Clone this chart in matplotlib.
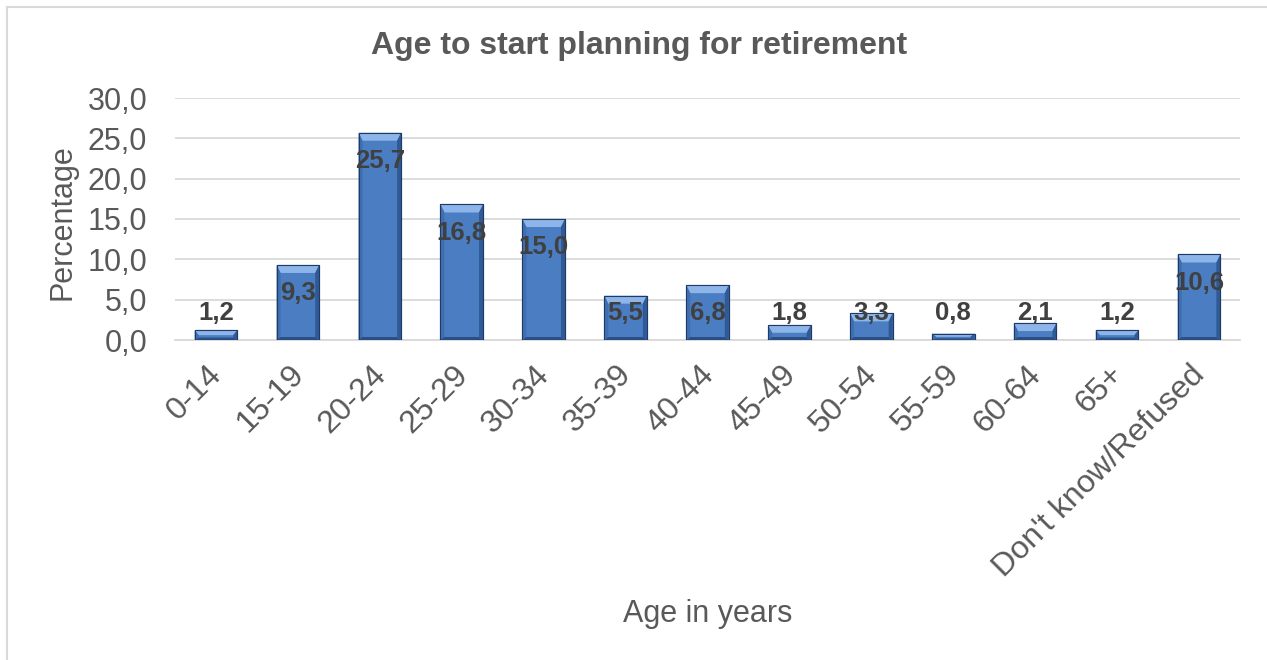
import matplotlib.pyplot as plt
from matplotlib.patches import Polygon
from matplotlib.lines import Line2D
import matplotlib.transforms as mtransforms

age_groups = ['0-14', '15-19', '20-24', '25-29', '30-34', '35-39', '40-44',
              '45-49', '50-54', '55-59', '60-64', '65+', "Don't know/Refused"]
percentages = [1.2, 9.3, 25.7, 16.8, 15.0, 5.5, 6.8, 1.8, 3.3, 0.8, 2.1, 1.2, 10.6]
y_ticks = [0, 5, 10, 15, 20, 25, 30]

plt.rcParams['font.family'] = ['Liberation Sans', 'DejaVu Sans']

W, H = 1267, 660
fig = plt.figure(figsize=(W / 100, H / 100), dpi=100)
L, R, T, B = 175, 1240, 98, 340
ax = fig.add_axes([L / W, 1 - B / H, (R - L) / W, (B - T) / H])

ax.set_xlim(-0.5, len(age_groups) - 0.5)
ax.set_ylim(0, 30)
xpx = (R - L) / len(age_groups)   # pixels per category
ypx = (B - T) / 30.0              # pixels per percent

face = '#4a7dc2'
bars = ax.bar(range(len(age_groups)), percentages, width=0.52, color=face,
              edgecolor='#1f3a64', linewidth=0.8, zorder=3)

# bevel effect on each bar
for b in bars:
    x0, w, h = b.get_x(), b.get_width(), b.get_height()
    bx = 4 / xpx
    ty = min(8 / ypx, h * 0.5)
    by = min(3 / ypx, h * 0.25)
    polys = [
        ([(x0, h), (x0 + w, h), (x0 + w - bx, h - ty), (x0 + bx, h - ty)], '#8db5ea'),
        ([(x0, 0), (x0, h), (x0 + bx, h - ty), (x0 + bx, by)], '#3f6fb0'),
        ([(x0 + w, 0), (x0 + w, h), (x0 + w - bx, h - ty), (x0 + w - bx, by)], '#2f5a96'),
        ([(x0, 0), (x0 + w, 0), (x0 + w - bx, by), (x0 + bx, by)], '#2a4f85'),
    ]
    for pts, c in polys:
        ax.add_patch(Polygon(pts, closed=True, facecolor=c, edgecolor='none', zorder=4))
    ax.add_patch(Polygon([(x0, 0), (x0, h), (x0 + w, h), (x0 + w, 0)], closed=True,
                         facecolor='none', edgecolor='#1f3a64', linewidth=0.8, zorder=5))

# value labels: inside the top of the bar, kept above the axis for short bars
for i, v in enumerate(percentages):
    ly = max(v - 3.5, 3.35)
    ax.text(i, ly, f'{v:.1f}'.replace('.', ','), ha='center', va='center',
            fontsize=18.5, fontweight='bold', color='#404040', zorder=6)

ax.set_yticks(y_ticks)
ax.set_yticklabels([f'{t:.1f}'.replace('.', ',') for t in y_ticks])
ax.yaxis.grid(True, color='#d9d9d9', linewidth=1.3, zorder=0)
ax.set_axisbelow(True)
for s in ['top', 'right', 'left']:
    ax.spines[s].set_visible(False)
ax.spines['bottom'].set_color('#d9d9d9')
ax.spines['bottom'].set_linewidth(1.3)
ax.tick_params(axis='both', length=0, labelsize=22, labelcolor='#595959')
ax.tick_params(axis='y', pad=20)

ax.set_xticks(range(len(age_groups)))
ax.set_xticklabels(age_groups, rotation=45, ha='right', va='top',
                   rotation_mode='anchor', fontsize=23)
ax.tick_params(axis='x', pad=14)
shift = mtransforms.ScaledTranslation(-9 / 100, 0, fig.dpi_scale_trans)
for lbl in ax.get_xticklabels():
    lbl.set_transform(lbl.get_transform() + shift)

fig.text(639 / W, 1 - 46 / H, 'Age to start planning for retirement', ha='center',
         va='center', fontsize=23, fontweight='bold', color='#595959')
fig.text(708 / W, 1 - 614 / H, 'Age in years', ha='center', va='center',
         fontsize=22, color='#595959')
fig.text(62 / W, 1 - 222 / H, 'Percentage', ha='center', va='center',
         rotation=90, fontsize=22, color='#595959')

# chart border
fig.add_artist(Line2D([6.5 / W, 6.5 / W], [0, 1 - 6.5 / H], transform=fig.transFigure,
                      color='#d9d9d9', linewidth=1.5))
fig.add_artist(Line2D([6.5 / W, 1], [1 - 6.5 / H, 1 - 6.5 / H], transform=fig.transFigure,
                      color='#d9d9d9', linewidth=1.5))

fig.savefig('out.png', dpi=100, facecolor='white')
